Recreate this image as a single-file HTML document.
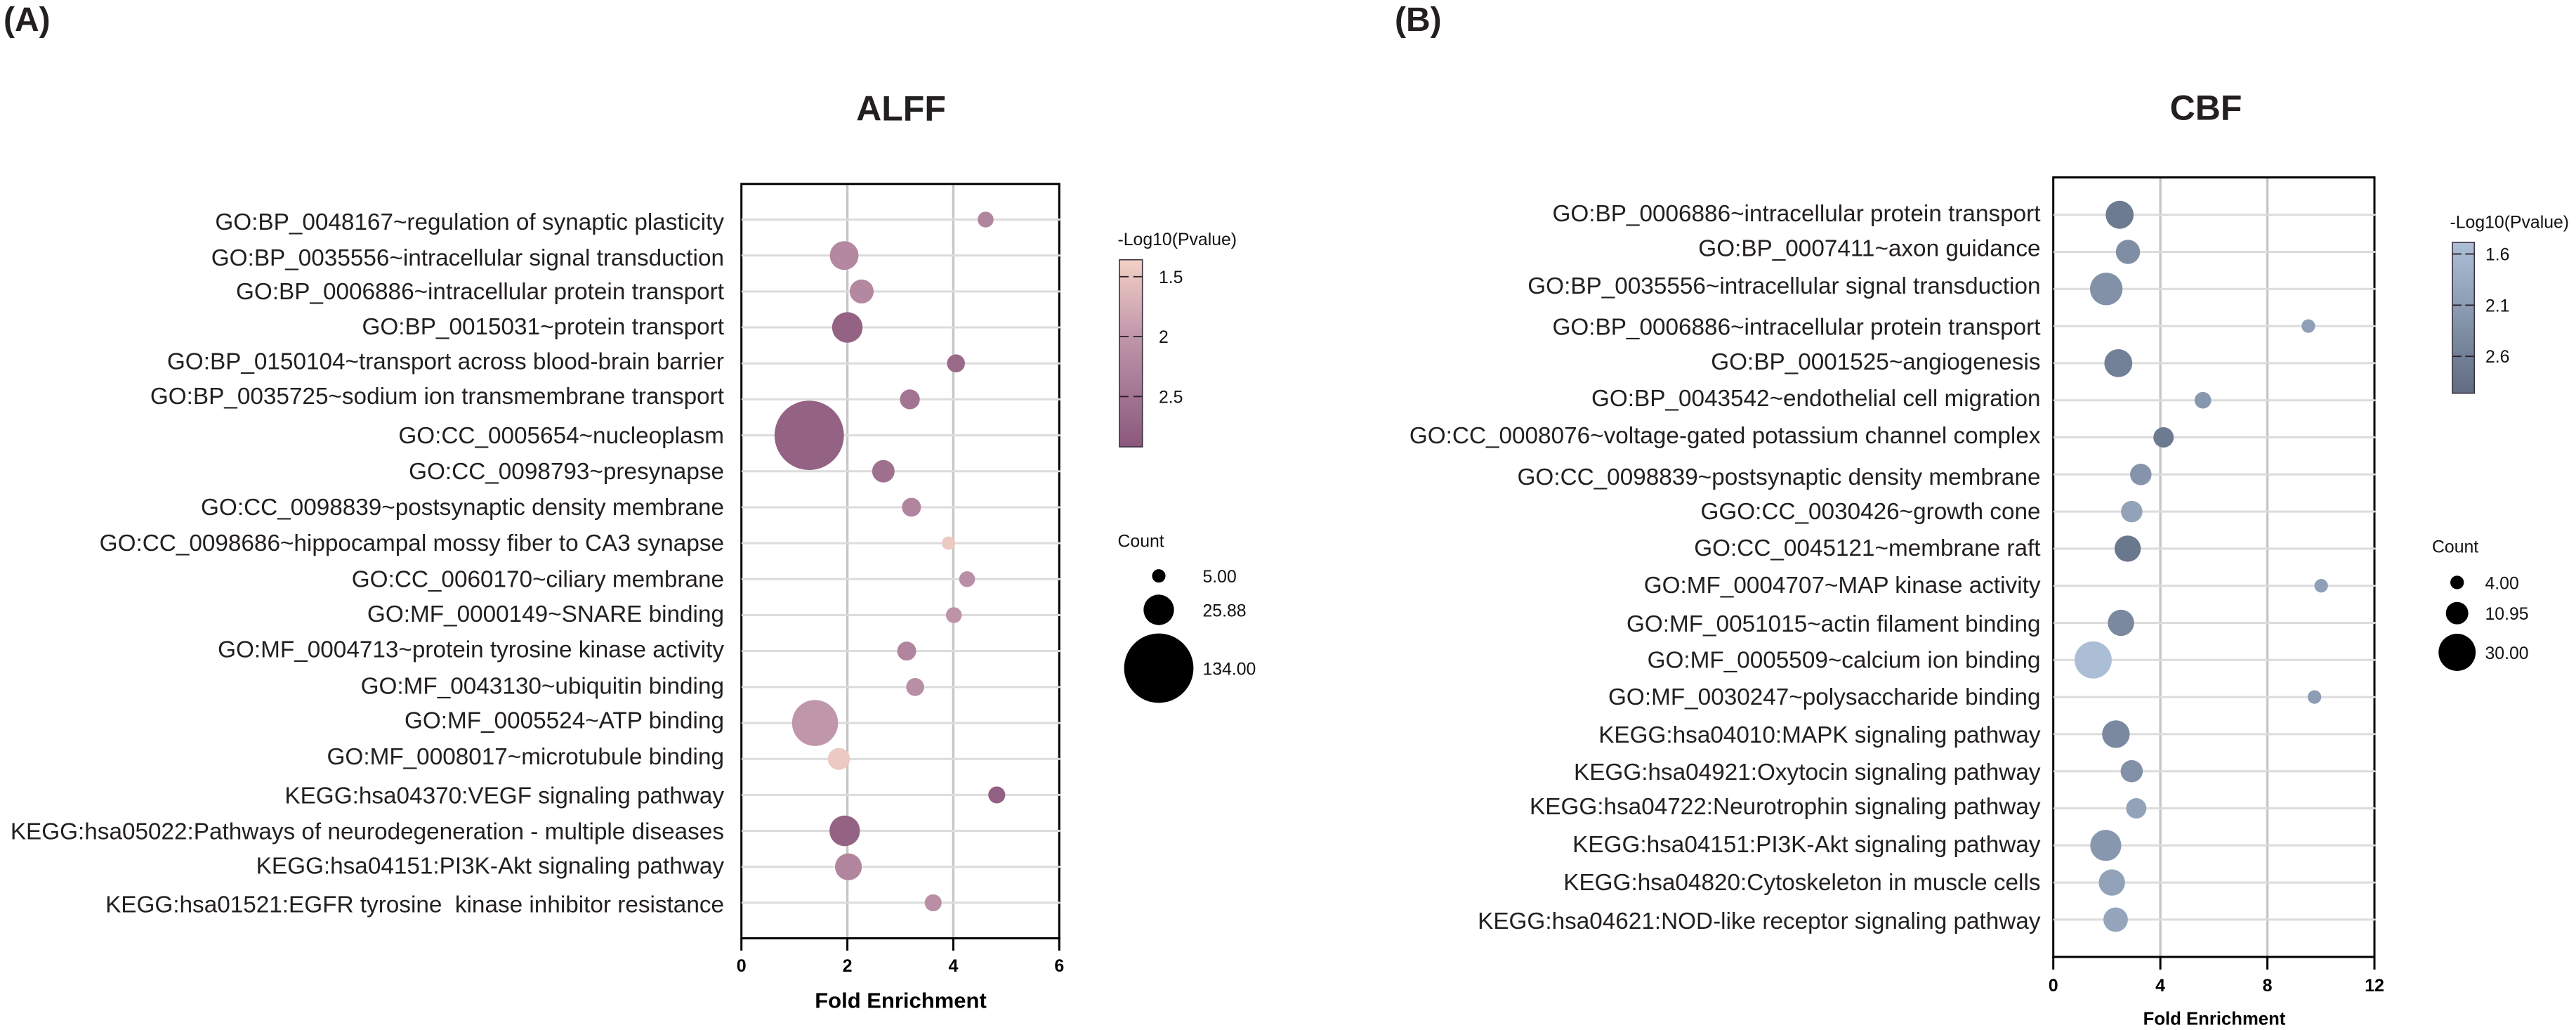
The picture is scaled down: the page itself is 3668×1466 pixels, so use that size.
<!DOCTYPE html>
<html lang="en">
<head>
<meta charset="utf-8">
<title>ALFF and CBF enrichment bubble charts</title>
<style>
html,body{margin:0;padding:0;background:#fff;}
body{width:3668px;height:1466px;overflow:hidden;}
svg{display:block;font-family:"Liberation Sans",sans-serif;}
</style>
</head>
<body>
<svg id="figure" xmlns="http://www.w3.org/2000/svg" width="3668" height="1466" viewBox="0 0 3668 1466">
  <rect x="0" y="0" width="3668" height="1466" fill="#ffffff"/>
  <text x="5" y="44" font-size="48" font-weight="700" fill="#231f20">(A)</text>
  <text x="1986" y="44" font-size="48" font-weight="700" fill="#231f20">(B)</text>
</svg>
<script>
// ---------- ALFF data ----------
const alffCategories = [
  "GO:BP_0048167~regulation of synaptic plasticity",
  "GO:BP_0035556~intracellular signal transduction",
  "GO:BP_0006886~intracellular protein transport",
  "GO:BP_0015031~protein transport",
  "GO:BP_0150104~transport across blood-brain barrier",
  "GO:BP_0035725~sodium ion transmembrane transport",
  "GO:CC_0005654~nucleoplasm",
  "GO:CC_0098793~presynapse",
  "GO:CC_0098839~postsynaptic density membrane",
  "GO:CC_0098686~hippocampal mossy fiber to CA3 synapse",
  "GO:CC_0060170~ciliary membrane",
  "GO:MF_0000149~SNARE binding",
  "GO:MF_0004713~protein tyrosine kinase activity",
  "GO:MF_0043130~ubiquitin binding",
  "GO:MF_0005524~ATP binding",
  "GO:MF_0008017~microtubule binding",
  "KEGG:hsa04370:VEGF signaling pathway",
  "KEGG:hsa05022:Pathways of neurodegeneration - multiple diseases",
  "KEGG:hsa04151:PI3K-Akt signaling pathway",
  "KEGG:hsa01521:EGFR tyrosine\u00a0 kinase inhibitor resistance"
];
const alffFoldEnrichment = [4.61,1.94,2.27,2.0,4.05,3.18,1.28,2.68,3.21,3.91,4.26,4.01,3.12,3.28,1.39,1.84,4.82,1.95,2.02,3.62];
const alffCount = [7,23,16,26,9,11,134,14,10,5,7,7,10,9,59,13.5,8,26,20,8];
const alffNegLogP = [2.25,2.2,2.2,2.75,2.65,2.5,2.75,2.55,2.25,1.45,2.1,2.05,2.25,2.1,2.0,1.45,2.8,2.75,2.25,2.1];
const alffXTicks = [0,2,4,6];
const alffColorTicks = [1.5,2,2.5];
const alffSizeLegend = [5,25.88,134];

// ---------- CBF data ----------
const cbfCategories = [
  "GO:BP_0006886~intracellular protein transport",
  "GO:BP_0007411~axon guidance",
  "GO:BP_0035556~intracellular signal transduction",
  "GO:BP_0006886~intracellular protein transport",
  "GO:BP_0001525~angiogenesis",
  "GO:BP_0043542~endothelial cell migration",
  "GO:CC_0008076~voltage-gated potassium channel complex",
  "GO:CC_0098839~postsynaptic density membrane",
  "GGO:CC_0030426~growth cone",
  "GO:CC_0045121~membrane raft",
  "GO:MF_0004707~MAP kinase activity",
  "GO:MF_0051015~actin filament binding",
  "GO:MF_0005509~calcium ion binding",
  "GO:MF_0030247~polysaccharide binding",
  "KEGG:hsa04010:MAPK signaling pathway",
  "KEGG:hsa04921:Oxytocin signaling pathway",
  "KEGG:hsa04722:Neurotrophin signaling pathway",
  "KEGG:hsa04151:PI3K-Akt signaling pathway",
  "KEGG:hsa04820:Cytoskeleton in muscle cells",
  "KEGG:hsa04621:NOD-like receptor signaling pathway"
];
const cbfFoldEnrichment = [2.48,2.79,1.98,9.53,2.43,5.59,4.12,3.27,2.93,2.78,10.01,2.53,1.49,9.76,2.34,2.93,3.1,1.96,2.19,2.33];
const cbfCount = [17,12.7,23,4,17,6,9,10,10,15,4,15,30,4,16.6,10.7,9,21,15,13];
const cbfNegLogP = [2.7,2.35,2.3,2.05,2.6,2.2,2.7,2.25,2.0,2.75,2.05,2.45,1.5,2.1,2.45,2.3,2.0,2.2,2.0,1.95];
const cbfXTicks = [0,4,8,12];
const cbfColorTicks = [1.6,2.1,2.6];
const cbfSizeLegend = [4,10.95,30];

// ---------- hand-placed label baselines in the source figure (px below each row) ----------
const alffLabelBaselineDy = [14.5,14.5,11.2,10,8.3,6.4,11.5,11,11,11,11,9.4,9,9.5,7.5,8,12.3,12,10,13.5];
const cbfLabelBaselineDy = [9.3,6,6.5,12.4,9.1,8.1,8.5,14.5,11,10.1,10.3,12.3,11.3,10.9,12.1,12.3,8.5,9.7,10.9,13.1];

const NS = "http://www.w3.org/2000/svg";
const figure = document.getElementById("figure");

function make(tag, attrs, parent, text) {
  const el = document.createElementNS(NS, tag);
  for (const k in attrs) el.setAttribute(k, attrs[k]);
  if (text !== undefined) el.textContent = text;
  parent.appendChild(el);
  return el;
}
function slug(s) {
  return s.toLowerCase().replace(/[^a-z0-9]+/g, "-").replace(/^-|-$/g, "");
}
function mix(stops, t) {
  t = Math.max(0, Math.min(1, t));
  let i = 0;
  while (i < stops.length - 2 && t > stops[i + 1][0]) i++;
  const a = stops[i], b = stops[i + 1];
  const f = (t - a[0]) / (b[0] - a[0]);
  const c = [1, 2, 3].map(function (j) { return Math.round(a[j] + (b[j] - a[j]) * f); });
  return "rgb(" + c.join(",") + ")";
}

function drawPanel(p) {
  const g = make("g", {}, figure);
  
  

  const xScale = function (v) { return p.left + (v - p.xMin) / (p.xMax - p.xMin) * (p.right - p.left); };
  const yScale = function (i) { return p.rowTop + i * p.rowStep; };
  const rScale = function (c) { return Math.sqrt(p.sizeK * c); };
  const barY = function (v) { return p.barTick0Y + (v - p.colorTicks[0]) * p.barPxPerUnit; };
  const barFrac = function (v) { return (barY(v) - p.barTop) / (p.barBottom - p.barTop); };
  const colorScale = function (v) { return mix(p.stops, barFrac(v)); };

  // title
  const title = make("text", {x: p.titleX, y: p.titleY, "font-size": 50, "font-weight": 700, "text-anchor": "middle", fill: "#231f20"}, g, p.title);
  
  

  // vertical grid lines
  p.xTicks.forEach(function (v) {
    if (v === p.xMin || v === p.xMax) return;
    const line = make("line", {x1: xScale(v), x2: xScale(v), y1: p.top, y2: p.bottom, stroke: "#c6c6c6", "stroke-width": 3.4}, g);
    
    
  });

  // plot frame
  const frame = make("rect", {x: p.left, y: p.top, width: p.right - p.left, height: p.bottom - p.top, fill: "none", stroke: "#000", "stroke-width": 3}, g);
  
  

  // rows: grid line + label
  p.categories.forEach(function (c, i) {
    const line = make("line", {x1: p.left + 1.5, x2: p.right, y1: yScale(i), y2: yScale(i), stroke: "#dcdcdc", "stroke-width": 3, "stroke-linecap": "round"}, g);
    
    
    const label = make("text", {x: p.labelRight, y: yScale(i) + p.labelDy[i], "font-size": 33.3, "text-anchor": "end", fill: "#231f20"}, g, c);
    
    
  });

  // bubbles
  p.categories.forEach(function (c, i) {
    const dot = make("circle", {cx: xScale(p.enrichment[i]), cy: yScale(i), r: rScale(p.count[i]), fill: colorScale(p.negLogP[i])}, g);
    
    
  });

  // x ticks
  p.xTicks.forEach(function (v) {
    const t = make("line", {x1: xScale(v), x2: xScale(v), y1: p.bottom, y2: p.bottom + p.tickLen, stroke: "#000", "stroke-width": 3}, g);
    
    
    const l = make("text", {x: xScale(v), y: p.tickBaseline, "font-size": 25, "font-weight": 700, "text-anchor": "middle", fill: "#000"}, g, String(v));
    
    
  });

  // x axis title
  const xt = make("text", {x: p.xTitleX, y: p.xTitleY, "font-size": p.xTitleSize, "font-weight": 700, "text-anchor": "middle", fill: "#000"}, g, "Fold Enrichment");
  
  

  // colour legend
  const defs = make("defs", {}, g);
  const grad = make("linearGradient", {id: p.key + "-gradient", x1: 0, y1: 0, x2: 0, y2: 1}, defs);
  p.stops.forEach(function (s) {
    make("stop", {offset: s[0], "stop-color": "rgb(" + s[1] + "," + s[2] + "," + s[3] + ")"}, grad);
  });
  const ct = make("text", {x: p.barTitleX, y: p.barTitleY, "font-size": 24.8, fill: "#111"}, g, "-Log10(Pvalue)");
  
  
  const bar = make("rect", {x: p.barLeft, y: p.barTop, width: p.barRight - p.barLeft, height: p.barBottom - p.barTop, fill: "url(#" + p.key + "-gradient)", stroke: "#3a3040", "stroke-width": 1.6}, g);
  
  
  p.colorTicks.forEach(function (v) {
    const y = barY(v);
    const d1 = make("line", {x1: p.barLeft, x2: p.barLeft + 13, y1: y, y2: y, stroke: "#2a2028", "stroke-width": 1.8}, g);
    
    
    const d2 = make("line", {x1: p.barRight - 13, x2: p.barRight, y1: y, y2: y, stroke: "#2a2028", "stroke-width": 1.8}, g);
    
    
    const l = make("text", {x: p.barLabelX, y: y + 9, "font-size": 24.8, fill: "#111"}, g, String(v));
    
    
  });

  // size legend
  const st = make("text", {x: p.countX, y: p.countY, "font-size": 24.8, fill: "#111"}, g, "Count");
  
  
  p.sizeLegend.forEach(function (c, i) {
    const dot = make("circle", {cx: p.sizeCx, cy: p.sizeCy[i], r: rScale(c), fill: "#000"}, g);
    
    
    const l = make("text", {x: p.sizeLabelX, y: p.sizeCy[i] + 9.5, "font-size": 24.8, fill: "#111"}, g, c.toFixed(2));
    
    
  });
}

drawPanel({
  key: "alff", title: "ALFF", titleX: 1283, titleY: 171.7,
  categories: alffCategories, enrichment: alffFoldEnrichment, count: alffCount, negLogP: alffNegLogP,
  xTicks: alffXTicks, colorTicks: alffColorTicks, sizeLegend: alffSizeLegend, labelDy: alffLabelBaselineDy,
  left: 1055.7, right: 1508.3, top: 261.8, bottom: 1335.5, xMin: 0, xMax: 6,
  rowTop: 312.5, rowStep: 51.18, labelRight: 1031, tickLen: 17.5, tickBaseline: 1383,
  xTitleX: 1282.5, xTitleY: 1434.7, xTitleSize: 31, sizeK: 18.2,
  barLeft: 1594, barRight: 1626.7, barTop: 369.7, barBottom: 636, barTick0Y: 393.8, barPxPerUnit: 170.6,
  barTitleX: 1591.5, barTitleY: 349, barLabelX: 1650,
  stops: [[0,244,209,198],[0.41,191,150,170],[1,138,88,124]],
  countX: 1591.5, countY: 778.7, sizeCx: 1650, sizeCy: [819.7,868,951], sizeLabelX: 1712.5
});

drawPanel({
  key: "cbf", title: "CBF", titleX: 3141, titleY: 170.5,
  categories: cbfCategories, enrichment: cbfFoldEnrichment, count: cbfCount, negLogP: cbfNegLogP,
  xTicks: cbfXTicks, colorTicks: cbfColorTicks, sizeLegend: cbfSizeLegend, labelDy: cbfLabelBaselineDy,
  left: 2923.7, right: 3381, top: 252.5, bottom: 1362, xMin: 0, xMax: 12,
  rowTop: 305.7, rowStep: 52.8, labelRight: 2905.5, tickLen: 18, tickBaseline: 1411,
  xTitleX: 3153, xTitleY: 1458.5, xTitleSize: 25.7, sizeK: 23.3,
  barLeft: 3492, barRight: 3523.3, barTop: 345, barBottom: 559.7, barTick0Y: 361.5, barPxPerUnit: 145.7,
  barTitleX: 3488.5, barTitleY: 324.5, barLabelX: 3539,
  stops: [[0,173,191,215],[1,95,108,130]],
  countX: 3463, countY: 786.5, sizeCx: 3498.7, sizeCy: [829,872.7,928.5], sizeLabelX: 3538.5
});
</script>
</body>
</html>
